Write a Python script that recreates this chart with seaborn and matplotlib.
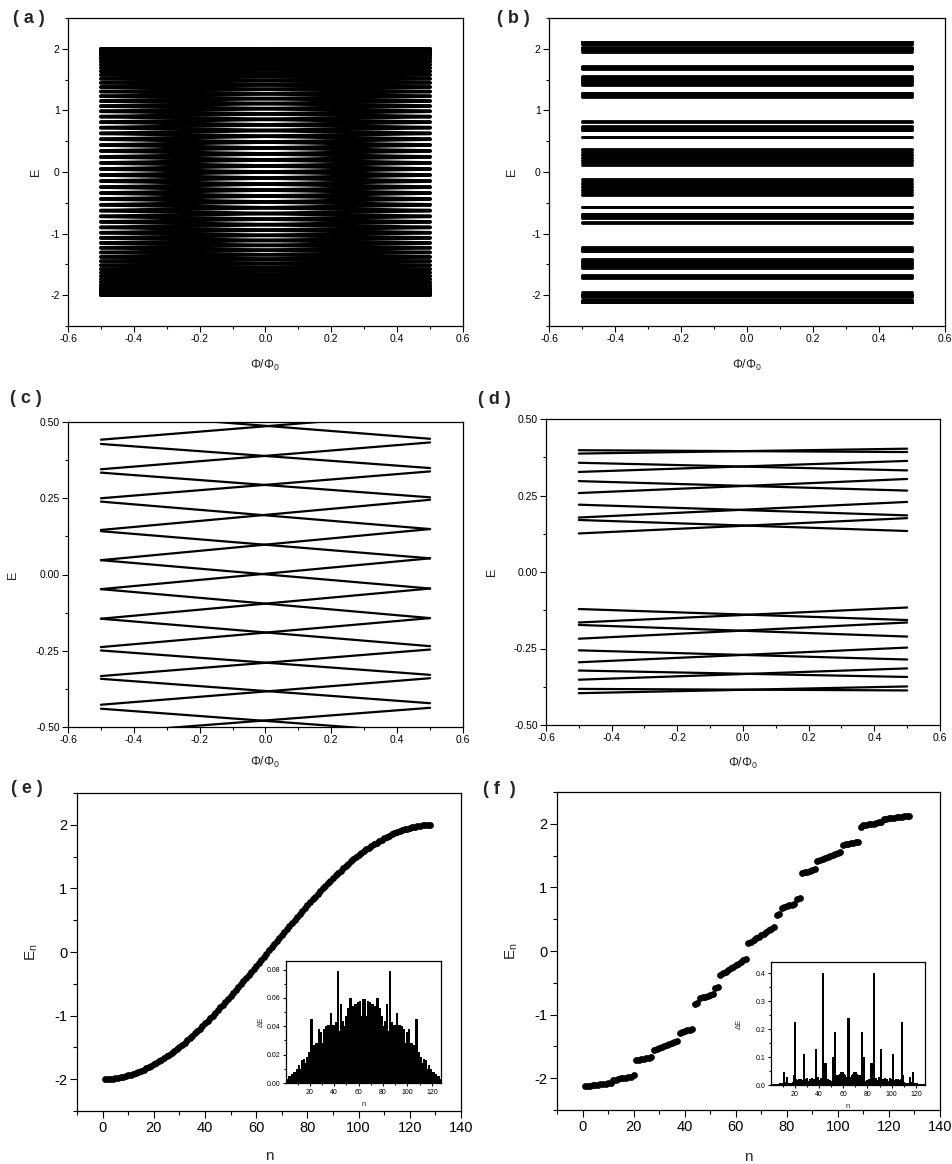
import numpy as np
import pandas as pd
import matplotlib
matplotlib.use("Agg")
import matplotlib.pyplot as plt
import seaborn as sns
from matplotlib.ticker import MultipleLocator, FormatStrFormatter

# ---------------- data ----------------
# (a) level energies of the ring; even index = crossing at phi=0, odd index = value at phi=+-0.5
levels_a = [
    2.000, 1.999, 1.998, 1.995, 1.990, 1.985, 1.978, 1.971, 1.962, 1.951,
    1.940, 1.928, 1.914, 1.899, 1.883, 1.866, 1.848, 1.828, 1.808, 1.786,
    1.764, 1.740, 1.715, 1.690, 1.663, 1.635, 1.606, 1.577, 1.546, 1.514,
    1.482, 1.448, 1.414, 1.379, 1.343, 1.306, 1.269, 1.230, 1.191, 1.152,
    1.111, 1.070, 1.028, 0.986, 0.943, 0.899, 0.855, 0.810, 0.765, 0.720,
    0.674, 0.627, 0.581, 0.533, 0.486, 0.438, 0.390, 0.342, 0.293, 0.245,
    0.196, 0.147, 0.098, 0.049, 0.000,
    -0.049, -0.098, -0.147, -0.196, -0.245, -0.293, -0.342, -0.390, -0.438, -0.486,
    -0.533, -0.581, -0.627, -0.674, -0.720, -0.765, -0.810, -0.855, -0.899, -0.943,
    -0.986, -1.028, -1.070, -1.111, -1.152, -1.191, -1.230, -1.269, -1.306, -1.343,
    -1.379, -1.414, -1.448, -1.482, -1.514, -1.546, -1.577, -1.606, -1.635, -1.663,
    -1.690, -1.715, -1.740, -1.764, -1.786, -1.808, -1.828, -1.848, -1.866, -1.883,
    -1.899, -1.914, -1.928, -1.940, -1.951, -1.962, -1.971, -1.978, -1.985, -1.990,
    -1.995, -1.998, -1.999, -2.000,
]

# (c) straight levels: energy at phi=-0.5 and at phi=+0.5
c_left = [0.442, 0.345, 0.250, 0.146, 0.047, -0.048, -0.145, -0.238, -0.333, -0.427, -0.520,
          0.530, 0.428, 0.334, 0.239, 0.142, 0.047, -0.048, -0.145, -0.249, -0.342, -0.440]
c_right = [0.530, 0.433, 0.338, 0.245, 0.149, 0.053, -0.046, -0.143, -0.246, -0.340, -0.437,
           0.445, 0.349, 0.253, 0.149, 0.053, -0.046, -0.143, -0.235, -0.329, -0.422, -0.520]

# (d) two sub-bands around the gap
d_left = [0.398, 0.387, 0.357, 0.327, 0.297, 0.258, 0.220, 0.178, 0.170, 0.126,
          -0.121, -0.165, -0.173, -0.218, -0.256, -0.295, -0.322, -0.352, -0.382, -0.396]
d_right = [0.392, 0.403, 0.332, 0.363, 0.266, 0.304, 0.185, 0.229, 0.134, 0.176,
           -0.157, -0.116, -0.211, -0.165, -0.286, -0.247, -0.343, -0.315, -0.387, -0.374]

# (e) ordered eigenvalues, periodic chain
En_e = [
    -1.999, -1.998, -1.995, -1.991, -1.985, -1.979, -1.971, -1.962, -1.952, -1.941,
    -1.929, -1.915, -1.901, -1.885, -1.868, -1.850, -1.831, -1.811, -1.790, -1.767,
    -1.744, -1.720, -1.694, -1.668, -1.641, -1.612, -1.583, -1.553, -1.522, -1.489,
    -1.457, -1.423, -1.388, -1.353, -1.316, -1.279, -1.242, -1.203, -1.164, -1.124,
    -1.083, -1.042, -1.000, -0.957, -0.915, -0.871, -0.827, -0.782, -0.737, -0.692,
    -0.646, -0.599, -0.553, -0.506, -0.459, -0.411, -0.363, -0.315, -0.267, -0.219,
    -0.170, -0.122, -0.073, -0.024,
    0.024, 0.073, 0.122, 0.170, 0.219, 0.267, 0.315, 0.363, 0.411, 0.459,
    0.506, 0.553, 0.599, 0.646, 0.692, 0.737, 0.782, 0.827, 0.871, 0.915,
    0.957, 1.000, 1.042, 1.083, 1.124, 1.164, 1.203, 1.242, 1.279, 1.316,
    1.353, 1.388, 1.423, 1.457, 1.489, 1.522, 1.553, 1.583, 1.612, 1.641,
    1.668, 1.694, 1.720, 1.744, 1.767, 1.790, 1.811, 1.831, 1.850, 1.868,
    1.885, 1.901, 1.915, 1.929, 1.941, 1.952, 1.962, 1.971, 1.979, 1.985,
    1.991, 1.995, 1.998, 1.999,
]

# (e) inset: level spacing
dE_e = [
    0.002, 0.003, 0.005, 0.004, 0.006, 0.005, 0.008, 0.007, 0.010, 0.008,
    0.013, 0.010, 0.016, 0.012, 0.017, 0.014, 0.018, 0.016, 0.022, 0.018,
    0.045, 0.020, 0.027, 0.022, 0.028, 0.026, 0.038, 0.026, 0.036, 0.028,
    0.038, 0.029, 0.040, 0.031, 0.041, 0.033, 0.049, 0.034, 0.041, 0.035,
    0.043, 0.036, 0.079, 0.037, 0.056, 0.039, 0.044, 0.040, 0.047, 0.041,
    0.053, 0.042, 0.060, 0.043, 0.054, 0.044, 0.056, 0.045, 0.057, 0.046,
    0.058, 0.047, 0.059, 0.058,
    0.059, 0.047, 0.058, 0.046, 0.057, 0.045, 0.056, 0.044, 0.054, 0.043,
    0.060, 0.042, 0.053, 0.041, 0.047, 0.040, 0.044, 0.039, 0.056, 0.037,
    0.079, 0.036, 0.043, 0.035, 0.041, 0.034, 0.049, 0.033, 0.041, 0.031,
    0.040, 0.029, 0.038, 0.028, 0.036, 0.026, 0.038, 0.026, 0.028, 0.022,
    0.027, 0.020, 0.045, 0.018, 0.022, 0.016, 0.018, 0.014, 0.017, 0.012,
    0.016, 0.010, 0.013, 0.008, 0.010, 0.007, 0.008, 0.005, 0.006, 0.004,
    0.005, 0.003, 0.002,
]

# (f) ordered eigenvalues, quasiperiodic chain (also the levels of panel b)
En_f = [
    -2.118, -2.117, -2.115, -2.112, -2.108, -2.104, -2.099, -2.094, -2.088, -2.082, -2.076,
    -2.031, -2.021, -2.012, -2.004, -1.996, -1.989, -1.982, -1.975, -1.945,
    -1.720, -1.712, -1.705, -1.697, -1.690, -1.682, -1.672,
    -1.562, -1.546, -1.530, -1.514, -1.498, -1.483, -1.467, -1.451, -1.436, -1.420,
    -1.290, -1.277, -1.263, -1.249, -1.236, -1.222,
    -0.830, -0.810,
    -0.745, -0.730, -0.716, -0.702, -0.688, -0.675,
    -0.575, -0.568,
    -0.378, -0.352, -0.326, -0.300, -0.275, -0.249, -0.223, -0.197, -0.172, -0.146, -0.120,
    0.120, 0.146, 0.172, 0.197, 0.223, 0.249, 0.275, 0.300, 0.326, 0.352, 0.378,
    0.568, 0.575,
    0.675, 0.688, 0.702, 0.716, 0.730, 0.745,
    0.810, 0.830,
    1.222, 1.236, 1.249, 1.263, 1.277, 1.290,
    1.420, 1.436, 1.451, 1.467, 1.483, 1.498, 1.514, 1.530, 1.546, 1.562,
    1.672, 1.682, 1.690, 1.697, 1.705, 1.712, 1.720,
    1.945, 1.975, 1.982, 1.989, 1.996, 2.004, 2.012, 2.021, 2.031,
    2.076, 2.082, 2.088, 2.094, 2.099, 2.104, 2.108, 2.112, 2.115, 2.117, 2.118,
]

# (f) inset: level spacing
dE_f = [
    0.001, 0.002, 0.003, 0.004, 0.004, 0.005, 0.005, 0.006, 0.006, 0.006,
    0.045, 0.010, 0.030, 0.008, 0.008, 0.007, 0.007, 0.009, 0.035, 0.225,
    0.020, 0.018, 0.022, 0.015, 0.020, 0.018, 0.110, 0.022, 0.018, 0.024,
    0.016, 0.022, 0.018, 0.025, 0.016, 0.022, 0.130, 0.020, 0.030, 0.018,
    0.025, 0.022, 0.400, 0.020, 0.080, 0.018, 0.020, 0.015, 0.018, 0.016,
    0.100, 0.007, 0.190, 0.030, 0.035, 0.036, 0.040, 0.045, 0.048, 0.040,
    0.035, 0.030, 0.028, 0.240,
    0.028, 0.030, 0.035, 0.040, 0.048, 0.045, 0.040, 0.036, 0.035, 0.030,
    0.190, 0.007, 0.100, 0.016, 0.018, 0.015, 0.020, 0.018, 0.080, 0.020,
    0.400, 0.022, 0.025, 0.018, 0.030, 0.020, 0.130, 0.022, 0.016, 0.025,
    0.018, 0.022, 0.016, 0.024, 0.018, 0.022, 0.110, 0.018, 0.020, 0.015,
    0.022, 0.018, 0.020, 0.225, 0.035, 0.009, 0.007, 0.007, 0.008, 0.008,
    0.030, 0.010, 0.045, 0.006, 0.006, 0.006, 0.005, 0.005, 0.004, 0.004,
    0.003, 0.002, 0.001,
]

n_levels = np.arange(1, len(En_e) + 1)
n_gaps = np.arange(1, len(dE_e) + 1)

# ---------------- helpers ----------------
def levels_frame(left, right, mid=None):
    rows = []
    for i in range(len(left)):
        rows.append((i, -0.5, left[i]))
        if mid is not None:
            rows.append((i, 0.0, mid[i]))
        rows.append((i, 0.5, right[i]))
    return pd.DataFrame(rows, columns=["line", "phi", "E"])


# (a): each crossing at phi=0 carries two levels going opposite ways
a_left, a_mid, a_right = [], [], []
last = len(levels_a) - 1
for j in range(0, len(levels_a), 2):
    if j == 0:
        a_left.append(levels_a[1]); a_mid.append(levels_a[0]); a_right.append(levels_a[1])
    elif j == last:
        a_left.append(levels_a[j - 1]); a_mid.append(levels_a[j]); a_right.append(levels_a[j - 1])
    else:
        a_left.append(levels_a[j - 1]); a_mid.append(levels_a[j]); a_right.append(levels_a[j + 1])
        a_left.append(levels_a[j + 1]); a_mid.append(levels_a[j]); a_right.append(levels_a[j - 1])

sns.set_style("ticks")
plt.rcParams["font.family"] = ["Liberation Sans", "DejaVu Sans"]
plt.rcParams["mathtext.fontset"] = "custom"
plt.rcParams["mathtext.rm"] = "Liberation Sans"
plt.rcParams["mathtext.it"] = "Liberation Sans:italic"
plt.rcParams["axes.unicode_minus"] = False

W, H = 953, 1164
fig = plt.figure(figsize=(W / 100, H / 100), dpi=100)


def add_ax(l, r, t, b):
    return fig.add_axes([l / W, 1 - b / H, (r - l) / W, (b - t) / H])


def style(ax, size, major=4, minor=2):
    for s in ax.spines.values():
        s.set_visible(True)
        s.set_color("k")
        s.set_linewidth(0.9)
    ax.tick_params(which="both", direction="out", top=False, right=False,
                   labelsize=size, colors="k", width=0.8, pad=2)
    ax.tick_params(which="major", length=major)
    ax.tick_params(which="minor", length=minor)
    ax.grid(False)


def spectrum_axes(ax, df, lw, ylim, ymaj, ymin, yfmt):
    sns.lineplot(data=df, x="phi", y="E", units="line", estimator=None, sort=False,
                 color="k", linewidth=lw, legend=False, ax=ax)
    ax.set_xlim(-0.6, 0.6)
    ax.set_ylim(*ylim)
    ax.xaxis.set_major_locator(MultipleLocator(0.2))
    ax.xaxis.set_minor_locator(MultipleLocator(0.1))
    ax.xaxis.set_major_formatter(FormatStrFormatter("%.1f"))
    ax.yaxis.set_major_locator(MultipleLocator(ymaj))
    ax.yaxis.set_minor_locator(MultipleLocator(ymin))
    ax.yaxis.set_major_formatter(FormatStrFormatter(yfmt))
    style(ax, 7.5)
    ax.set_xlabel(r"$\mathrm{\Phi/\Phi_0}$", fontsize=9)
    ax.set_ylabel("E", fontsize=9)


# ---------------- panels (a)-(d) ----------------
ax_a = add_ax(68, 463, 18, 326)
spectrum_axes(ax_a, levels_frame(a_left, a_right, a_mid), 2.6, (-2.5, 2.5), 1, 0.5, "%g")
ax_a.xaxis.set_label_coords(0.5, -0.105)
ax_a.yaxis.set_label_coords(-0.066, 0.5)

ax_b = add_ax(549, 945, 18, 326)
spectrum_axes(ax_b, levels_frame(En_f, En_f), 2.0, (-2.5, 2.5), 1, 0.5, "%g")
ax_b.xaxis.set_label_coords(0.5, -0.105)
ax_b.yaxis.set_label_coords(-0.078, 0.5)

ax_c = add_ax(68, 463, 422, 727)
spectrum_axes(ax_c, levels_frame(c_left, c_right), 1.6, (-0.5, 0.5), 0.25, 0.125, "%.2f")
ax_c.xaxis.set_label_coords(0.5, -0.09)
ax_c.yaxis.set_label_coords(-0.124, 0.5)

ax_d = add_ax(546, 940, 419, 725)
spectrum_axes(ax_d, levels_frame(d_left, d_right), 1.6, (-0.5, 0.5), 0.25, 0.125, "%.2f")
ax_d.xaxis.set_label_coords(0.5, -0.10)
ax_d.yaxis.set_label_coords(-0.122, 0.5)

# ---------------- panels (e), (f) ----------------
def level_axes(ax, En):
    sns.scatterplot(x=n_levels, y=En, color="k", s=24, linewidth=0, ax=ax)
    ax.set_xlim(-10, 140)
    ax.set_ylim(-2.5, 2.5)
    ax.xaxis.set_major_locator(MultipleLocator(20))
    ax.xaxis.set_minor_locator(MultipleLocator(10))
    ax.yaxis.set_major_locator(MultipleLocator(1))
    ax.yaxis.set_minor_locator(MultipleLocator(0.5))
    ax.yaxis.set_major_formatter(FormatStrFormatter("%g"))
    style(ax, 10.5, major=5, minor=3)
    ax.set_xlabel("n", fontsize=11)
    ax.set_ylabel(r"$\mathrm{E_n}$", fontsize=11)


def gap_inset(ax, dE, ytop, ymaj, ymin, yfmt):
    sns.barplot(x=n_gaps, y=dE, native_scale=True, color="k", width=1.0,
                edgecolor="k", linewidth=0.4, errorbar=None, antialiased=False, ax=ax)
    ax.set_xlim(0.5, 127.5)
    ax.set_ylim(0, ytop)
    ax.xaxis.set_major_locator(MultipleLocator(20))
    ax.xaxis.set_minor_locator(MultipleLocator(10))
    ax.xaxis.set_major_formatter(FormatStrFormatter("%d"))
    ax.yaxis.set_major_locator(MultipleLocator(ymaj))
    ax.yaxis.set_minor_locator(MultipleLocator(ymin))
    ax.yaxis.set_major_formatter(FormatStrFormatter(yfmt))
    style(ax, 5, major=2.5, minor=1.5)
    ax.tick_params(pad=1.5)
    ax.set_xlabel("n", fontsize=5.5)
    ax.set_ylabel("ΔE", fontsize=5.5)


ax_e = add_ax(77, 461, 793, 1111)
level_axes(ax_e, En_e)
ax_e.xaxis.set_label_coords(0.5, -0.12)
ax_e.yaxis.set_label_coords(-0.096, 0.5)

ax_f = add_ax(557, 940, 792, 1110)
level_axes(ax_f, En_f)
ax_f.xaxis.set_label_coords(0.5, -0.125)
ax_f.yaxis.set_label_coords(-0.097, 0.5)

ins_e = add_ax(286, 441, 961, 1083)
gap_inset(ins_e, dE_e, 0.086, 0.02, 0.01, "%.2f")
ins_e.xaxis.set_label_coords(0.5, -0.15)
ins_e.yaxis.set_label_coords(-0.135, 0.5)

ins_f = add_ax(771, 925, 962, 1085)
gap_inset(ins_f, dE_f, 0.44, 0.1, 0.05, "%.1f")
ins_f.xaxis.set_label_coords(0.5, -0.15)
ins_f.yaxis.set_label_coords(-0.185, 0.5)

# ---------------- panel tags ----------------
for x, y, tag in [(13, 10, "( a )"), (497, 10, "( b )"), (10, 390, "( c )"),
                  (478, 391, "( d )"), (11, 780, "( e )"), (483, 781, "( f  )")]:
    fig.text(x / W, 1 - y / H, tag, fontsize=13, fontweight="bold", va="top", ha="left")

fig.savefig("out.png", dpi=100)
